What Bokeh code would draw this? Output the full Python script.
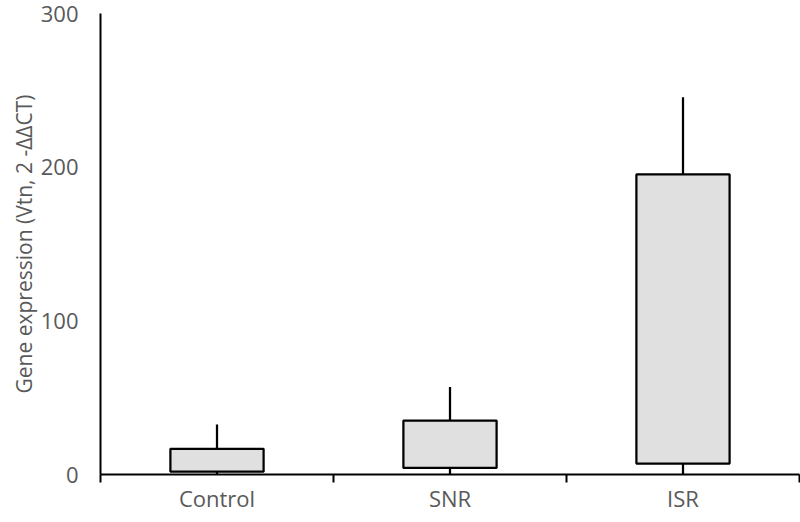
from bokeh.plotting import figure
from bokeh.models import Range1d, LinearAxis, FixedTicker, ColumnDataSource
from bokeh.embed import file_html
from bokeh.resources import INLINE

# ---- data ----
categories = ["Control", "SNR", "ISR"]
box_low = [1.8, 4.3, 7.1]
box_high = [16.7, 35.1, 195.3]
err_high = [32.5, 57.0, 245.5]
y_ticks = [0, 100, 200, 300]
y_title = "Gene expression (Vtn, 2 -\u0394\u0394CT)"

FONT = "Open Sans"
TXT = "#595959"
W, H = 800, 522

n = len(categories)
xpos = [i + 0.5 for i in range(n)]          # category centres
bounds = [float(i) for i in range(n + 1)]   # category boundaries

src = ColumnDataSource(dict(x=xpos, lo=box_low, hi=box_high,
                            eh=err_high, z=[0] * n))

p = figure(width=W, height=H, output_backend="svg", toolbar_location=None,
           x_range=Range1d(0, n), y_range=Range1d(0, 300),
           x_axis_location=None, y_axis_location=None,
           min_border_left=100, min_border_right=1, min_border_top=13,
           min_border_bottom=48)
p.outline_line_color = None
p.xgrid.visible = False
p.ygrid.visible = False

# whiskers
p.segment(x0="x", y0="hi", x1="x", y1="eh", source=src,
          line_color="black", line_width=2.25)
p.segment(x0="x", y0="z", x1="x", y1="lo", source=src,
          line_color="black", line_width=2.25)
# floating boxes
p.vbar(x="x", bottom="lo", top="hi", width=0.4, source=src,
       fill_color="#E0E0E0", line_color="black", line_width=2.25)

# y axis with its title
yax = LinearAxis(ticker=FixedTicker(ticks=y_ticks))
yax.axis_line_color = "black"
yax.axis_line_width = 2
yax.major_tick_out = 0
yax.major_tick_in = 0
yax.minor_tick_out = 0
yax.minor_tick_in = 0
yax.major_label_standoff = 22
yax.major_label_text_font = FONT
yax.major_label_text_font_size = "22px"
yax.major_label_text_line_height = 1.0
yax.major_label_text_color = TXT
yax.axis_label = y_title
yax.axis_label_standoff = 0
yax.axis_label_text_font = FONT
yax.axis_label_text_font_size = "21px"
yax.axis_label_text_font_style = "normal"
yax.axis_label_text_color = TXT
p.add_layout(yax, "left")

# x axis: category labels at centres, boundary ticks as minor ticks
xax = LinearAxis(ticker=FixedTicker(ticks=xpos, minor_ticks=bounds),
                 major_label_overrides={x: c for x, c in zip(xpos, categories)})
xax.axis_line_color = "black"
xax.axis_line_width = 2
xax.major_tick_out = 0
xax.major_tick_in = 0
xax.minor_tick_out = 8
xax.minor_tick_in = 0
xax.minor_tick_line_width = 2
xax.minor_tick_line_color = "black"
xax.major_label_standoff = 0
xax.major_label_text_font = FONT
xax.major_label_text_font_size = "22px"
xax.major_label_text_color = TXT
p.add_layout(xax, "below")

open("out.html", "w").write(file_html(p, INLINE))
